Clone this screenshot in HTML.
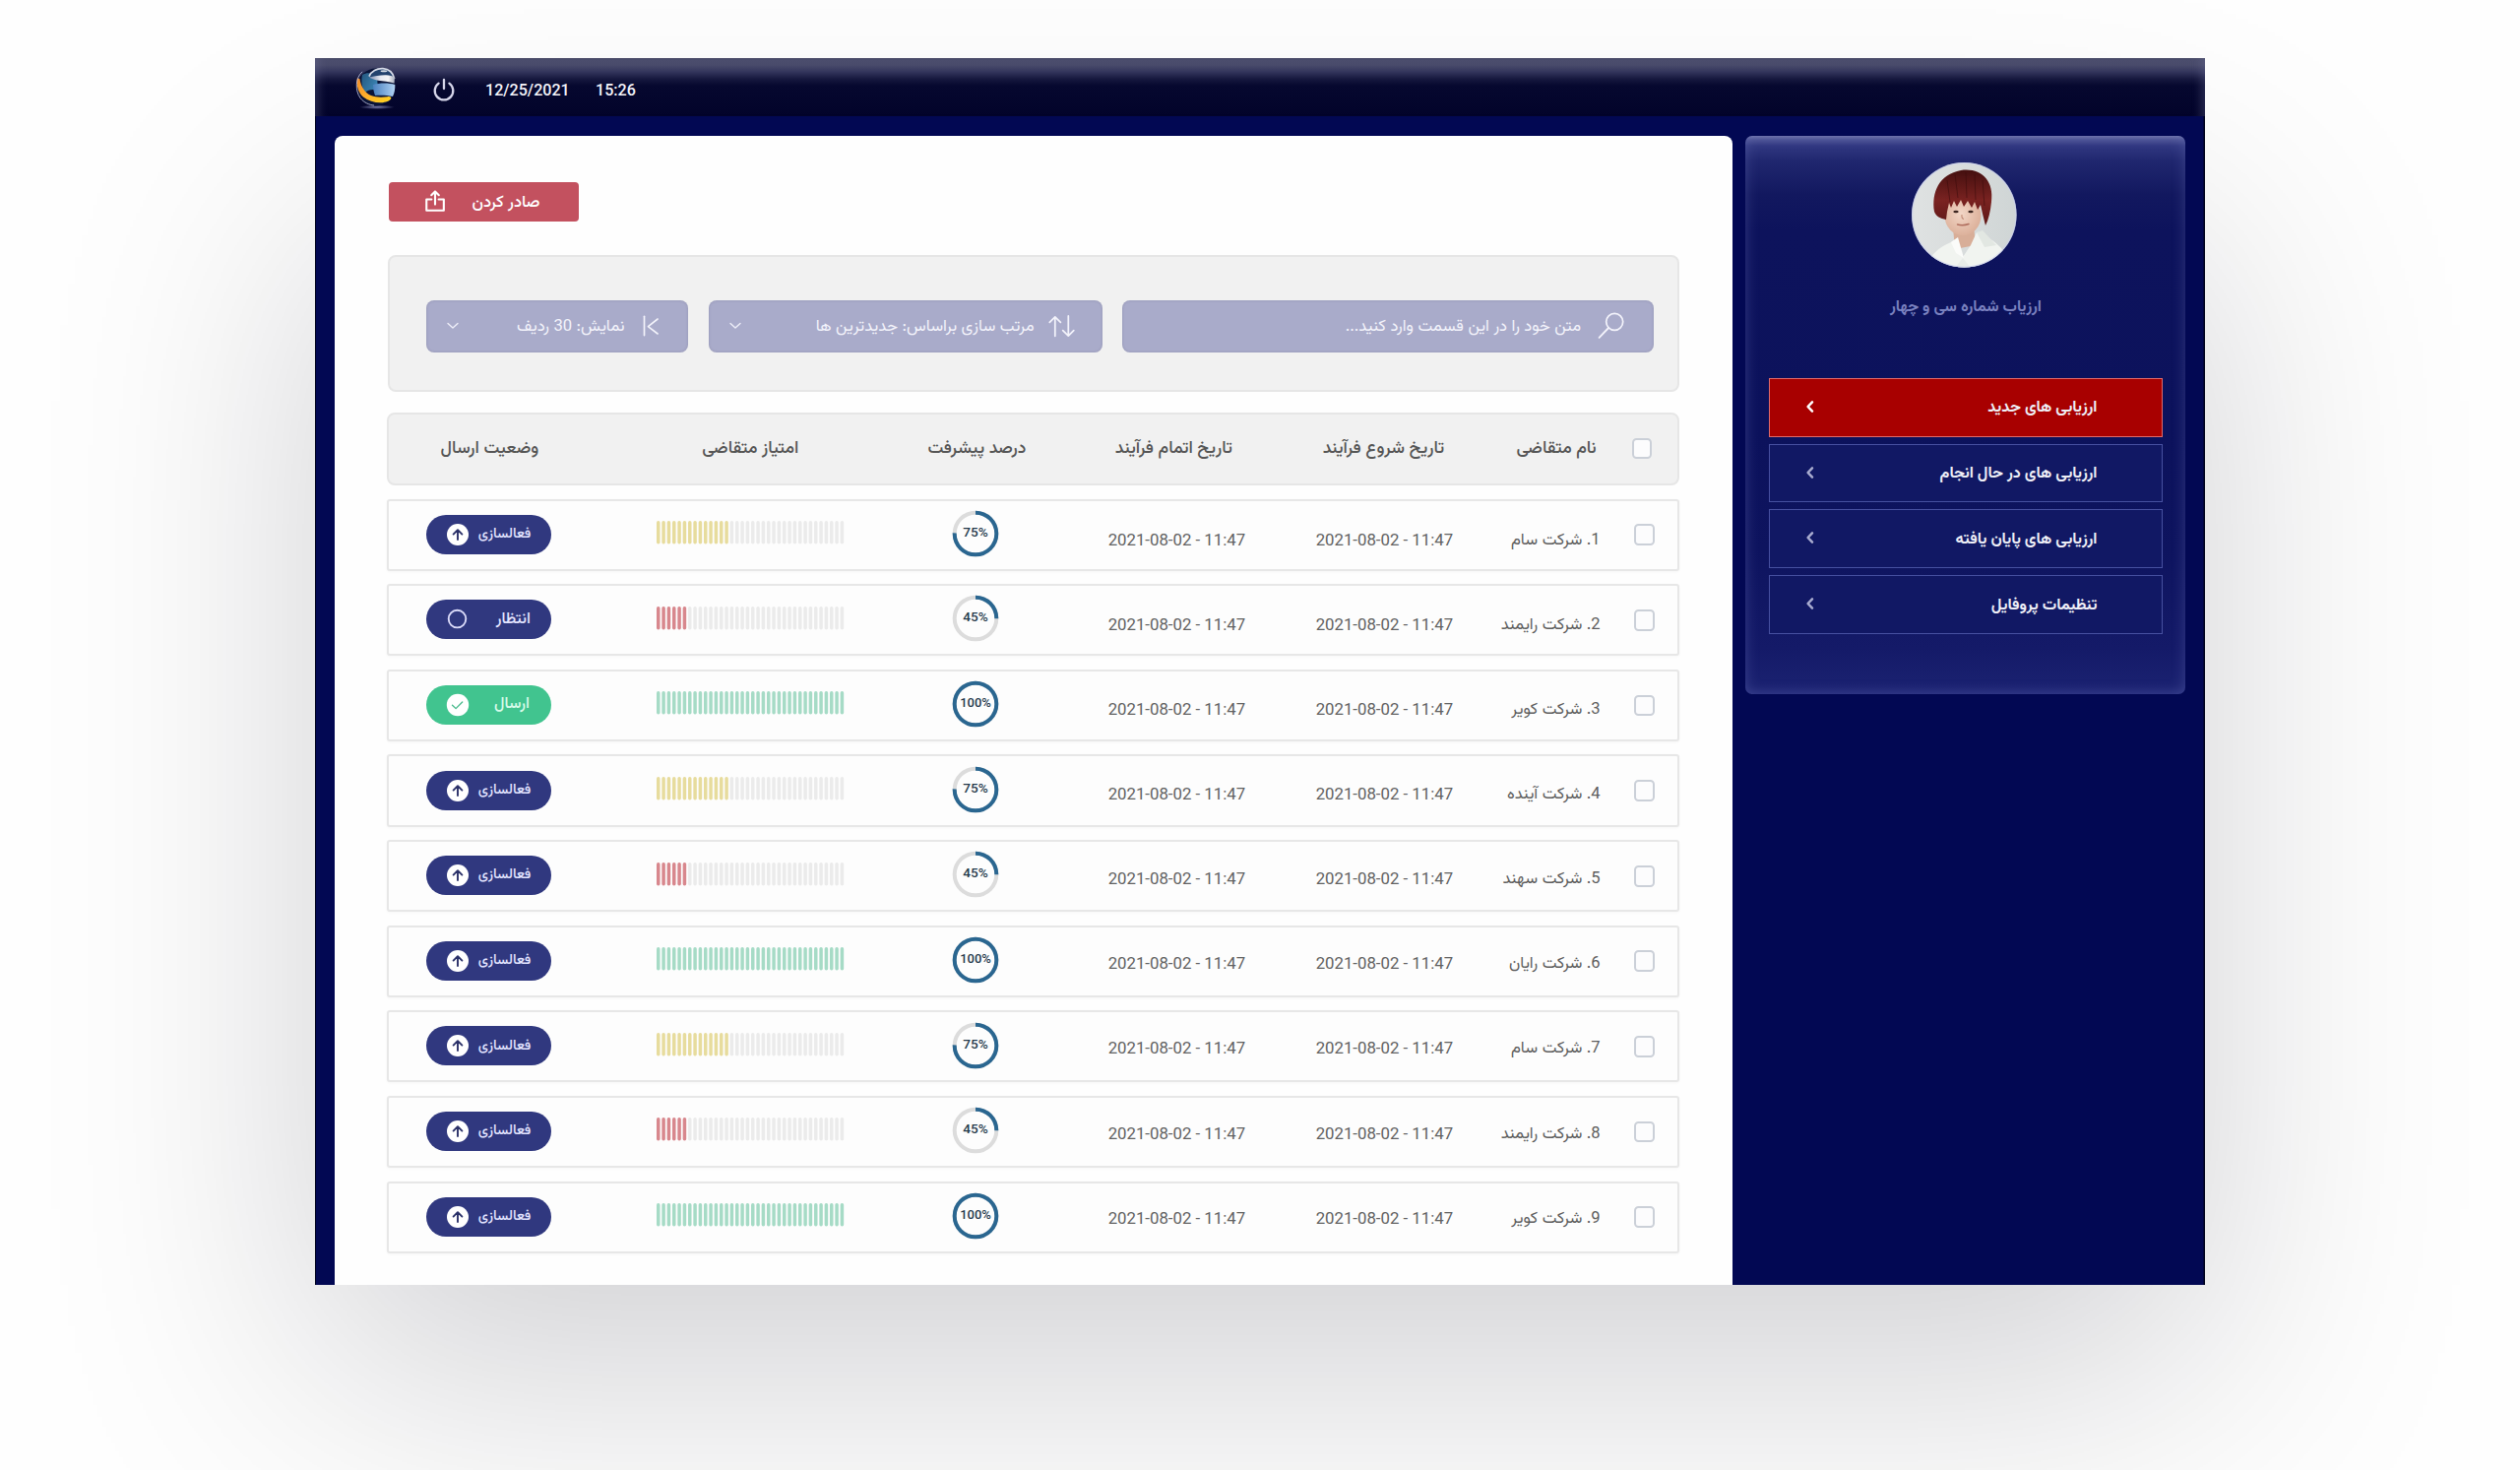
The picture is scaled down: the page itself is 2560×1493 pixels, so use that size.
<!DOCTYPE html><html lang="fa"><head><meta charset="utf-8"><title>ارزیابی ها</title>
<style>
*{margin:0;padding:0;box-sizing:border-box}
html,body{width:2560px;height:1493px;overflow:hidden;background:#fefefe}
body{position:relative;font-family:"Vazirmatn", "Roboto", "Liberation Sans", "DejaVu Sans", sans-serif;}
.win{position:absolute;left:320px;top:58.6px;width:1920px;height:1246.4px;background:#020853;box-shadow:inset 1px 0 0 #00031c,inset -1.5px 0 0 #00031c;
  }
.shd{position:absolute;left:320px;top:150px;width:1920px;height:1155px;box-shadow:0 90px 270px rgba(0,0,20,.185)}
.hdr{position:absolute;left:0;top:0;width:1920px;height:59.8px;
  background:linear-gradient(180deg,#42445f 0px,#4b4d6d 1.5px,#494b6b 7px,#33355c 14px,#17193f 21px,#06082f 28px,#02032a 60px);}
.hdr:before{content:"";position:absolute;inset:0;box-shadow:inset 12px 0 10px -8px rgba(110,112,150,.35),inset -12px 0 10px -8px rgba(110,112,150,.35)}
.date{position:absolute;top:80px;font-family:"Roboto", "Vazirmatn", "Liberation Sans", sans-serif;font-weight:500;font-size:16.1px;color:#f4f4fa;direction:ltr;line-height:24px}
.main{position:absolute;left:340px;top:138px;width:1420px;height:1167px;background:#fefefe;border-radius:8px 8px 0 0}
.side{position:absolute;left:1773px;top:138px;width:447px;height:567px;border-radius:7px;
  background:linear-gradient(180deg,#6b70a7 0px,#4a5092 4px,#313881 10px,#20276f 25px,#12185f 60px,#0d135c 96px,#0c125c 300px,#0e145f 420px,#141a68 520px,#1a2170 558px,#1e2575 567px);
  box-shadow:inset 0 0 14px rgba(120,128,200,.35)}
.exp{position:absolute;left:395px;top:185px;width:193px;height:40px;background:#c3515f;border-radius:4px;color:#fff}
.exp span{position:absolute;right:39.5px;top:6.8px;font-size:16.6px;font-weight:500;line-height:28px;direction:rtl}
.fbox{position:absolute;left:393.5px;top:259.3px;width:1312.3px;height:138.3px;background:#f1f1f1;border:2px solid #e6e6e6;border-radius:8px}
.inp{position:absolute;top:305.1px;height:52.9px;background:#a9abca;border-radius:8px;box-shadow:inset 0 0 3px rgba(40,40,60,.16);color:#f3f3fb;direction:rtl}
.inp span{position:absolute;top:13px;line-height:28px;font-size:16.6px;white-space:nowrap}
.thead{position:absolute;left:393.4px;top:418.8px;width:1312.3px;height:74.4px;background:#f1f1f1;border:2px solid #e6e6e6;border-radius:8px}
.th{position:absolute;top:21px;width:200px;text-align:center;font-size:17.6px;font-weight:500;line-height:28px;color:#555;direction:rtl;white-space:nowrap}
.row{position:absolute;left:393.4px;width:1312.3px;height:73.2px;background:#fdfdfd;border:2px solid #e7e7e7;border-radius:3px;box-shadow:0 1px 3px rgba(0,0,0,.035)}
.cb{position:absolute;width:20.4px;height:21.7px;border:2px solid #cbd0d8;border-radius:4.5px;background:#fcfcfd}
.nm{position:absolute;right:78px;top:24.8px;font-size:16.6px;line-height:28px;color:#5e5e5e;direction:rtl;white-space:nowrap}
.dt{position:absolute;top:27.1px;width:200px;text-align:center;font-family:"Roboto", "Vazirmatn", "Liberation Sans", sans-serif;font-size:16.8px;line-height:24px;color:#626262;direction:ltr;white-space:nowrap}
.d1{left:911px}
.d2{left:700px}
.rg{position:absolute;left:571.8px;top:9.4px;width:48px;height:48px}
.rg svg,.br svg,.pic{display:block}
.br{position:absolute;left:271.2px;top:20.5px}
.st{position:absolute;left:38px;top:14.2px}
.pill{position:relative;width:127px;height:40px;border-radius:20px;direction:rtl}
.pill.navy{background:#30387f;color:#e3e4ff}
.pill.green{background:#41c48f;color:#d8fbea}
.pill span{position:absolute;right:21px;top:7.3px;font-size:14.2px;font-weight:500;line-height:26px;white-space:nowrap}
.pill span.w{font-size:16px;right:21.5px;top:7.8px}
.pill.green span{font-size:16px;right:22.5px;top:7.3px}
.pic{position:absolute;left:20px;top:8px}
.sname{position:absolute;left:1797px;width:400px;top:298.5px;text-align:center;font-size:16px;font-weight:700;line-height:28px;color:#7a81bf;direction:rtl}
.mi{position:absolute;left:1797px;width:400px;height:59.5px;background:#111864;border:1.5px solid #4650a0;direction:rtl}
.mi.act{background:#a80000;border-color:#e06a6a}
.mi span{position:absolute;right:65.5px;top:15.3px;font-size:16.1px;font-weight:700;line-height:28px;color:#efeff7;white-space:nowrap}
.mi svg{position:absolute;left:35px;top:21px}
</style></head><body>
<div class="shd"></div><div class="win"><div class="hdr"></div></div>
<svg style="position:absolute;left:355px;top:64px" width="56" height="52" viewBox="0 0 56 52">
<defs>
<linearGradient id="lgt" x1="0" y1="0" x2="1" y2="0.6"><stop offset="0" stop-color="#25577e"/><stop offset="1" stop-color="#3a84b4"/></linearGradient>
<linearGradient id="lgb" x1="0" y1="0" x2="1" y2="0"><stop offset="0" stop-color="#4b82c0"/><stop offset=".7" stop-color="#8fb8e4"/><stop offset="1" stop-color="#b2d2f2"/></linearGradient>
<linearGradient id="lgs" x1="0" y1="0" x2="1" y2="0"><stop offset="0" stop-color="#7f8cae"/><stop offset=".45" stop-color="#e6e9f2"/><stop offset=".75" stop-color="#f4f4f6"/><stop offset="1" stop-color="#aab0c0"/></linearGradient>
<linearGradient id="lgo" x1="0" y1="0" x2="0.8" y2="1"><stop offset="0" stop-color="#ef8a2a"/><stop offset=".55" stop-color="#ffae2c"/><stop offset="1" stop-color="#ffcf22"/></linearGradient>
<radialGradient id="lgg" cx="0.5" cy="0.5" r="0.5"><stop offset="0" stop-color="#b4b8e8" stop-opacity=".7"/><stop offset="1" stop-color="#b4b8e8" stop-opacity="0"/></radialGradient>
</defs>
<ellipse cx="28" cy="44.8" rx="18" ry="2.2" fill="url(#lgg)"/>
<circle cx="27" cy="24.5" r="19" fill="#0a1438"/>
<path d="M13 12 C18 9 24 10 28 14 L29 28 C24 26 19 27 16 30 C13 26 11.5 19 13 12 Z" fill="url(#lgt)"/>
<path d="M24 22 C31 20 40 20 46.3 22 C46.5 26 45.8 30.5 44 34 C38 32.5 31 32.5 26 33 C24.5 29 24 25 24 22 Z" fill="url(#lgb)"/>
<path d="M19.5 14.2 C21 8 28 5 34 5.4 C40 5.8 44.5 10 46 16.5 C40 14 33 13 27 13.4 Z" fill="#22426e"/>
<path d="M20 13.6 C22 8.2 28 5.4 34 5.7 C40 6.1 44.2 10 45.7 16" stroke="#d6dae6" stroke-width="1.7" fill="none"/>
<path d="M20 14.6 C25 13 31 12.5 36 12.2 C40.5 12 43.8 12.9 45.9 14.6 L45.6 20.4 C40 19.1 34 18.4 29 17.7 C25 17 22 16 20 14.6 Z" fill="url(#lgs)"/>
<ellipse cx="35" cy="8.2" rx="3.4" ry="1" fill="#ffffff" opacity=".8"/>
<path d="M7.8 15.5 C6.8 23 9 30 14 34.5 C19 38.5 26 40.5 32 40.3 C37 40 41 38.5 42.3 36 C42.6 34.5 41 33.8 38.5 34.2 C33 35 27 35 22 33 C16 30.5 11.5 24 10.5 16 Z" fill="url(#lgo)"/>
<path d="M13.1 8.8 C6 15 5.5 28 11 35.5 C15 40.5 20 42.5 25 43" stroke="#c8cce8" stroke-width=".8" fill="none"/>
</svg>
<svg style="position:absolute;left:439px;top:79px" width="24" height="24" viewBox="0 0 24 24">
<path d="M6.6 5.6 A9.3 9.3 0 1 0 17.4 5.6" fill="none" stroke="#d6d6ea" stroke-width="2.3" stroke-linecap="round"/>
<path d="M12 1.9 V11" stroke="#d6d6ea" stroke-width="2.3" stroke-linecap="round"/></svg>
<div class="date" style="left:493px">12/25/2021</div>
<div class="date" style="left:605px">15:26</div>
<div class="main"></div>
<div class="exp"><svg style="position:absolute;left:35px;top:7px" width="24" height="26" viewBox="0 0 24 26">
<path d="M8.4 10.45H3.25V21.75H20.85V10.45H15.6" fill="none" stroke="#fff" stroke-width="2.1" stroke-linejoin="round" stroke-linecap="round"/>
<path d="M12 15.6V2.6M8.2 6.2L12 2.4l3.8 3.8" fill="none" stroke="#fff" stroke-width="2.1" stroke-linecap="round" stroke-linejoin="round"/></svg><span>صادر کردن</span></div>
<div class="fbox"></div>
<div class="inp" style="left:433.4px;width:266px"><svg style="position:absolute;left:20px;top:21px" width="14" height="10" viewBox="0 0 14 10"><path d="M2 2.5l5 4.5 5-4.5" fill="none" stroke="#eeeef8" stroke-width="1.4" stroke-linecap="round" stroke-linejoin="round"/></svg><svg style="position:absolute;left:217px;top:14px" width="20" height="24" viewBox="0 0 20 24">
<path d="M4.5 2.3V21.6" stroke="#f3f3fb" stroke-width="1.7" stroke-linecap="round"/>
<path d="M18.1 5L8.4 12.6l9.7 7.4" fill="none" stroke="#f3f3fb" stroke-width="1.6" stroke-linecap="round" stroke-linejoin="round"/></svg><span style="right:65px">نمایش: 30 ردیف</span></div>
<div class="inp" style="left:720px;width:399.5px"><svg style="position:absolute;left:20px;top:21px" width="14" height="10" viewBox="0 0 14 10"><path d="M2 2.5l5 4.5 5-4.5" fill="none" stroke="#eeeef8" stroke-width="1.4" stroke-linecap="round" stroke-linejoin="round"/></svg><svg style="position:absolute;left:344px;top:12px" width="30" height="28" viewBox="0 0 30 28">
<path d="M7.8 24.3V5.2M2.3 10.4L7.8 4.9l5.6 5.5" fill="none" stroke="#f3f3fb" stroke-width="1.75" stroke-linecap="round" stroke-linejoin="round"/>
<path d="M21.3 3.9V23.8M15.7 18.6L21.3 24.1 26.8 18.6" fill="none" stroke="#f3f3fb" stroke-width="1.75" stroke-linecap="round" stroke-linejoin="round"/></svg><span style="right:69px">مرتب سازی براساس: جدیدترین ها</span></div>
<div class="inp" style="left:1140px;width:540px"><svg style="position:absolute;left:483px;top:10px" width="30" height="32" viewBox="0 0 30 32">
<circle cx="17.2" cy="11.8" r="8.5" fill="none" stroke="#f3f3fb" stroke-width="1.75"/>
<path d="M11.1 18 L1.6 27.9" stroke="#f3f3fb" stroke-width="1.85" stroke-linecap="round"/></svg><span style="right:74px">متن خود را در این قسمت وارد کنید...</span></div>
<div class="thead"><div class="cb" style="left:1262.5px;top:24px;height:21.1px;width:20.2px"></div><div class="th" style="right:82px;width:auto">نام متقاضی</div><div class="th" style="left:910px">تاریخ شروع فرآیند</div><div class="th" style="left:697px">تاریخ اتمام فرآیند</div><div class="th" style="left:497px">درصد پیشرفت</div><div class="th" style="left:267px">امتیاز متقاضی</div><div class="th" style="left:2px">وضعیت ارسال</div></div>
<div class="row" style="top:506.5px"><div class="cb" style="left:1264.9px;top:23.9px"></div><div class="nm" style="top:26.60px">1. شرکت سام</div><div class="dt d1" style="top:27.60px">2021-08-02 - 11:47</div><div class="dt d2" style="top:27.60px">2021-08-02 - 11:47</div><div class="rg"><svg class="ring" width="48" height="48" viewBox="0 0 48 48"><circle cx="24" cy="24" r="21.3" fill="none" stroke="#dcdcdc" stroke-width="4"/><circle cx="24" cy="24" r="21.3" fill="none" stroke="#2a6690" stroke-width="4" stroke-dasharray="100.37 133.83" transform="rotate(-90 24 24)"/><text x="24" y="27.4" text-anchor="middle" font-family='"Roboto", "Vazirmatn", "Liberation Sans", sans-serif' font-weight="500" font-size="13.6" fill="#263a4c">75%</text></svg></div><div class="br"><svg class="bar" width="192" height="24" viewBox="0 0 192 24"><rect x="0.00" y="0" width="3.5" height="23.5" rx="1.7" fill="#e7dc9d"/><rect x="5.33" y="0" width="3.5" height="23.5" rx="1.7" fill="#e7dc9d"/><rect x="10.67" y="0" width="3.5" height="23.5" rx="1.7" fill="#e7dc9d"/><rect x="16.00" y="0" width="3.5" height="23.5" rx="1.7" fill="#e7dc9d"/><rect x="21.33" y="0" width="3.5" height="23.5" rx="1.7" fill="#e7dc9d"/><rect x="26.67" y="0" width="3.5" height="23.5" rx="1.7" fill="#e7dc9d"/><rect x="32.00" y="0" width="3.5" height="23.5" rx="1.7" fill="#e7dc9d"/><rect x="37.33" y="0" width="3.5" height="23.5" rx="1.7" fill="#e7dc9d"/><rect x="42.67" y="0" width="3.5" height="23.5" rx="1.7" fill="#e7dc9d"/><rect x="48.00" y="0" width="3.5" height="23.5" rx="1.7" fill="#e7dc9d"/><rect x="53.33" y="0" width="3.5" height="23.5" rx="1.7" fill="#e7dc9d"/><rect x="58.67" y="0" width="3.5" height="23.5" rx="1.7" fill="#e7dc9d"/><rect x="64.00" y="0" width="3.5" height="23.5" rx="1.7" fill="#e7dc9d"/><rect x="69.33" y="0" width="3.5" height="23.5" rx="1.7" fill="#e7dc9d"/><rect x="74.67" y="0" width="3.5" height="23.5" rx="1.7" fill="#ebebeb"/><rect x="80.00" y="0" width="3.5" height="23.5" rx="1.7" fill="#ebebeb"/><rect x="85.33" y="0" width="3.5" height="23.5" rx="1.7" fill="#ebebeb"/><rect x="90.67" y="0" width="3.5" height="23.5" rx="1.7" fill="#ebebeb"/><rect x="96.00" y="0" width="3.5" height="23.5" rx="1.7" fill="#ebebeb"/><rect x="101.33" y="0" width="3.5" height="23.5" rx="1.7" fill="#ebebeb"/><rect x="106.67" y="0" width="3.5" height="23.5" rx="1.7" fill="#ebebeb"/><rect x="112.00" y="0" width="3.5" height="23.5" rx="1.7" fill="#ebebeb"/><rect x="117.33" y="0" width="3.5" height="23.5" rx="1.7" fill="#ebebeb"/><rect x="122.67" y="0" width="3.5" height="23.5" rx="1.7" fill="#ebebeb"/><rect x="128.00" y="0" width="3.5" height="23.5" rx="1.7" fill="#ebebeb"/><rect x="133.33" y="0" width="3.5" height="23.5" rx="1.7" fill="#ebebeb"/><rect x="138.67" y="0" width="3.5" height="23.5" rx="1.7" fill="#ebebeb"/><rect x="144.00" y="0" width="3.5" height="23.5" rx="1.7" fill="#ebebeb"/><rect x="149.33" y="0" width="3.5" height="23.5" rx="1.7" fill="#ebebeb"/><rect x="154.67" y="0" width="3.5" height="23.5" rx="1.7" fill="#ebebeb"/><rect x="160.00" y="0" width="3.5" height="23.5" rx="1.7" fill="#ebebeb"/><rect x="165.33" y="0" width="3.5" height="23.5" rx="1.7" fill="#ebebeb"/><rect x="170.67" y="0" width="3.5" height="23.5" rx="1.7" fill="#ebebeb"/><rect x="176.00" y="0" width="3.5" height="23.5" rx="1.7" fill="#ebebeb"/><rect x="181.33" y="0" width="3.5" height="23.5" rx="1.7" fill="#ebebeb"/><rect x="186.67" y="0" width="3.5" height="23.5" rx="1.7" fill="#ebebeb"/></svg></div><div class="st"><div class="pill navy"><svg class="pic" width="24" height="24" viewBox="0 0 24 24"><circle cx="12" cy="12" r="11" fill="#fff"/><path d="M12 17V7.4M7.6 11.6L12 7.2l4.4 4.4" fill="none" stroke="#2a3068" stroke-width="1.9" stroke-linecap="round" stroke-linejoin="round"/></svg><span>فعالسازی</span></div></div></div>
<div class="row" style="top:593.1px"><div class="cb" style="left:1264.9px;top:23.9px"></div><div class="nm" style="top:26.03px">2. شرکت رایمند</div><div class="dt d1" style="top:27.03px">2021-08-02 - 11:47</div><div class="dt d2" style="top:27.03px">2021-08-02 - 11:47</div><div class="rg"><svg class="ring" width="48" height="48" viewBox="0 0 48 48"><circle cx="24" cy="24" r="21.3" fill="none" stroke="#dcdcdc" stroke-width="4"/><circle cx="24" cy="24" r="21.3" fill="none" stroke="#2a6690" stroke-width="4" stroke-dasharray="33.46 133.83" transform="rotate(-90 24 24)"/><text x="24" y="27.4" text-anchor="middle" font-family='"Roboto", "Vazirmatn", "Liberation Sans", sans-serif' font-weight="500" font-size="13.6" fill="#263a4c">45%</text></svg></div><div class="br"><svg class="bar" width="192" height="24" viewBox="0 0 192 24"><rect x="0.00" y="0" width="3.5" height="23.5" rx="1.7" fill="#d8878d"/><rect x="5.33" y="0" width="3.5" height="23.5" rx="1.7" fill="#d8878d"/><rect x="10.67" y="0" width="3.5" height="23.5" rx="1.7" fill="#d8878d"/><rect x="16.00" y="0" width="3.5" height="23.5" rx="1.7" fill="#d8878d"/><rect x="21.33" y="0" width="3.5" height="23.5" rx="1.7" fill="#d8878d"/><rect x="26.67" y="0" width="3.5" height="23.5" rx="1.7" fill="#d8878d"/><rect x="32.00" y="0" width="3.5" height="23.5" rx="1.7" fill="#ebebeb"/><rect x="37.33" y="0" width="3.5" height="23.5" rx="1.7" fill="#ebebeb"/><rect x="42.67" y="0" width="3.5" height="23.5" rx="1.7" fill="#ebebeb"/><rect x="48.00" y="0" width="3.5" height="23.5" rx="1.7" fill="#ebebeb"/><rect x="53.33" y="0" width="3.5" height="23.5" rx="1.7" fill="#ebebeb"/><rect x="58.67" y="0" width="3.5" height="23.5" rx="1.7" fill="#ebebeb"/><rect x="64.00" y="0" width="3.5" height="23.5" rx="1.7" fill="#ebebeb"/><rect x="69.33" y="0" width="3.5" height="23.5" rx="1.7" fill="#ebebeb"/><rect x="74.67" y="0" width="3.5" height="23.5" rx="1.7" fill="#ebebeb"/><rect x="80.00" y="0" width="3.5" height="23.5" rx="1.7" fill="#ebebeb"/><rect x="85.33" y="0" width="3.5" height="23.5" rx="1.7" fill="#ebebeb"/><rect x="90.67" y="0" width="3.5" height="23.5" rx="1.7" fill="#ebebeb"/><rect x="96.00" y="0" width="3.5" height="23.5" rx="1.7" fill="#ebebeb"/><rect x="101.33" y="0" width="3.5" height="23.5" rx="1.7" fill="#ebebeb"/><rect x="106.67" y="0" width="3.5" height="23.5" rx="1.7" fill="#ebebeb"/><rect x="112.00" y="0" width="3.5" height="23.5" rx="1.7" fill="#ebebeb"/><rect x="117.33" y="0" width="3.5" height="23.5" rx="1.7" fill="#ebebeb"/><rect x="122.67" y="0" width="3.5" height="23.5" rx="1.7" fill="#ebebeb"/><rect x="128.00" y="0" width="3.5" height="23.5" rx="1.7" fill="#ebebeb"/><rect x="133.33" y="0" width="3.5" height="23.5" rx="1.7" fill="#ebebeb"/><rect x="138.67" y="0" width="3.5" height="23.5" rx="1.7" fill="#ebebeb"/><rect x="144.00" y="0" width="3.5" height="23.5" rx="1.7" fill="#ebebeb"/><rect x="149.33" y="0" width="3.5" height="23.5" rx="1.7" fill="#ebebeb"/><rect x="154.67" y="0" width="3.5" height="23.5" rx="1.7" fill="#ebebeb"/><rect x="160.00" y="0" width="3.5" height="23.5" rx="1.7" fill="#ebebeb"/><rect x="165.33" y="0" width="3.5" height="23.5" rx="1.7" fill="#ebebeb"/><rect x="170.67" y="0" width="3.5" height="23.5" rx="1.7" fill="#ebebeb"/><rect x="176.00" y="0" width="3.5" height="23.5" rx="1.7" fill="#ebebeb"/><rect x="181.33" y="0" width="3.5" height="23.5" rx="1.7" fill="#ebebeb"/><rect x="186.67" y="0" width="3.5" height="23.5" rx="1.7" fill="#ebebeb"/></svg></div><div class="st"><div class="pill navy"><svg class="pic" width="24" height="24" viewBox="0 0 24 24"><circle cx="11.5" cy="11.6" r="8.8" fill="none" stroke="#dcdcfa" stroke-width="1.9"/></svg><span class="w">انتظار</span></div></div></div>
<div class="row" style="top:679.8px"><div class="cb" style="left:1264.9px;top:23.9px"></div><div class="nm" style="top:25.46px">3. شرکت کویر</div><div class="dt d1" style="top:26.46px">2021-08-02 - 11:47</div><div class="dt d2" style="top:26.46px">2021-08-02 - 11:47</div><div class="rg"><svg class="ring" width="48" height="48" viewBox="0 0 48 48"><circle cx="24" cy="24" r="21.3" fill="none" stroke="#dcdcdc" stroke-width="4"/><circle cx="24" cy="24" r="21.3" fill="none" stroke="#2a6690" stroke-width="4" stroke-dasharray="133.83 133.83" transform="rotate(-90 24 24)"/><text x="24" y="27.4" text-anchor="middle" font-family='"Roboto", "Vazirmatn", "Liberation Sans", sans-serif' font-weight="500" font-size="13" fill="#263a4c">100%</text></svg></div><div class="br"><svg class="bar" width="192" height="24" viewBox="0 0 192 24"><rect x="0.00" y="0" width="3.5" height="23.5" rx="1.7" fill="#a6dbc6"/><rect x="5.33" y="0" width="3.5" height="23.5" rx="1.7" fill="#a6dbc6"/><rect x="10.67" y="0" width="3.5" height="23.5" rx="1.7" fill="#a6dbc6"/><rect x="16.00" y="0" width="3.5" height="23.5" rx="1.7" fill="#a6dbc6"/><rect x="21.33" y="0" width="3.5" height="23.5" rx="1.7" fill="#a6dbc6"/><rect x="26.67" y="0" width="3.5" height="23.5" rx="1.7" fill="#a6dbc6"/><rect x="32.00" y="0" width="3.5" height="23.5" rx="1.7" fill="#a6dbc6"/><rect x="37.33" y="0" width="3.5" height="23.5" rx="1.7" fill="#a6dbc6"/><rect x="42.67" y="0" width="3.5" height="23.5" rx="1.7" fill="#a6dbc6"/><rect x="48.00" y="0" width="3.5" height="23.5" rx="1.7" fill="#a6dbc6"/><rect x="53.33" y="0" width="3.5" height="23.5" rx="1.7" fill="#a6dbc6"/><rect x="58.67" y="0" width="3.5" height="23.5" rx="1.7" fill="#a6dbc6"/><rect x="64.00" y="0" width="3.5" height="23.5" rx="1.7" fill="#a6dbc6"/><rect x="69.33" y="0" width="3.5" height="23.5" rx="1.7" fill="#a6dbc6"/><rect x="74.67" y="0" width="3.5" height="23.5" rx="1.7" fill="#a6dbc6"/><rect x="80.00" y="0" width="3.5" height="23.5" rx="1.7" fill="#a6dbc6"/><rect x="85.33" y="0" width="3.5" height="23.5" rx="1.7" fill="#a6dbc6"/><rect x="90.67" y="0" width="3.5" height="23.5" rx="1.7" fill="#a6dbc6"/><rect x="96.00" y="0" width="3.5" height="23.5" rx="1.7" fill="#a6dbc6"/><rect x="101.33" y="0" width="3.5" height="23.5" rx="1.7" fill="#a6dbc6"/><rect x="106.67" y="0" width="3.5" height="23.5" rx="1.7" fill="#a6dbc6"/><rect x="112.00" y="0" width="3.5" height="23.5" rx="1.7" fill="#a6dbc6"/><rect x="117.33" y="0" width="3.5" height="23.5" rx="1.7" fill="#a6dbc6"/><rect x="122.67" y="0" width="3.5" height="23.5" rx="1.7" fill="#a6dbc6"/><rect x="128.00" y="0" width="3.5" height="23.5" rx="1.7" fill="#a6dbc6"/><rect x="133.33" y="0" width="3.5" height="23.5" rx="1.7" fill="#a6dbc6"/><rect x="138.67" y="0" width="3.5" height="23.5" rx="1.7" fill="#a6dbc6"/><rect x="144.00" y="0" width="3.5" height="23.5" rx="1.7" fill="#a6dbc6"/><rect x="149.33" y="0" width="3.5" height="23.5" rx="1.7" fill="#a6dbc6"/><rect x="154.67" y="0" width="3.5" height="23.5" rx="1.7" fill="#a6dbc6"/><rect x="160.00" y="0" width="3.5" height="23.5" rx="1.7" fill="#a6dbc6"/><rect x="165.33" y="0" width="3.5" height="23.5" rx="1.7" fill="#a6dbc6"/><rect x="170.67" y="0" width="3.5" height="23.5" rx="1.7" fill="#a6dbc6"/><rect x="176.00" y="0" width="3.5" height="23.5" rx="1.7" fill="#a6dbc6"/><rect x="181.33" y="0" width="3.5" height="23.5" rx="1.7" fill="#a6dbc6"/><rect x="186.67" y="0" width="3.5" height="23.5" rx="1.7" fill="#a6dbc6"/></svg></div><div class="st"><div class="pill green"><svg class="pic" width="24" height="24" viewBox="0 0 24 24"><circle cx="12" cy="12" r="11.2" fill="#fff"/><path d="M6.5 12.2l3.6 3.4 6.6-6.6" fill="none" stroke="#45b98a" stroke-width="1.3" stroke-linecap="round" stroke-linejoin="round"/></svg><span>ارسال</span></div></div></div>
<div class="row" style="top:766.4px"><div class="cb" style="left:1264.9px;top:23.9px"></div><div class="nm" style="top:24.89px">4. شرکت آینده</div><div class="dt d1" style="top:25.89px">2021-08-02 - 11:47</div><div class="dt d2" style="top:25.89px">2021-08-02 - 11:47</div><div class="rg"><svg class="ring" width="48" height="48" viewBox="0 0 48 48"><circle cx="24" cy="24" r="21.3" fill="none" stroke="#dcdcdc" stroke-width="4"/><circle cx="24" cy="24" r="21.3" fill="none" stroke="#2a6690" stroke-width="4" stroke-dasharray="100.37 133.83" transform="rotate(-90 24 24)"/><text x="24" y="27.4" text-anchor="middle" font-family='"Roboto", "Vazirmatn", "Liberation Sans", sans-serif' font-weight="500" font-size="13.6" fill="#263a4c">75%</text></svg></div><div class="br"><svg class="bar" width="192" height="24" viewBox="0 0 192 24"><rect x="0.00" y="0" width="3.5" height="23.5" rx="1.7" fill="#e7dc9d"/><rect x="5.33" y="0" width="3.5" height="23.5" rx="1.7" fill="#e7dc9d"/><rect x="10.67" y="0" width="3.5" height="23.5" rx="1.7" fill="#e7dc9d"/><rect x="16.00" y="0" width="3.5" height="23.5" rx="1.7" fill="#e7dc9d"/><rect x="21.33" y="0" width="3.5" height="23.5" rx="1.7" fill="#e7dc9d"/><rect x="26.67" y="0" width="3.5" height="23.5" rx="1.7" fill="#e7dc9d"/><rect x="32.00" y="0" width="3.5" height="23.5" rx="1.7" fill="#e7dc9d"/><rect x="37.33" y="0" width="3.5" height="23.5" rx="1.7" fill="#e7dc9d"/><rect x="42.67" y="0" width="3.5" height="23.5" rx="1.7" fill="#e7dc9d"/><rect x="48.00" y="0" width="3.5" height="23.5" rx="1.7" fill="#e7dc9d"/><rect x="53.33" y="0" width="3.5" height="23.5" rx="1.7" fill="#e7dc9d"/><rect x="58.67" y="0" width="3.5" height="23.5" rx="1.7" fill="#e7dc9d"/><rect x="64.00" y="0" width="3.5" height="23.5" rx="1.7" fill="#e7dc9d"/><rect x="69.33" y="0" width="3.5" height="23.5" rx="1.7" fill="#e7dc9d"/><rect x="74.67" y="0" width="3.5" height="23.5" rx="1.7" fill="#ebebeb"/><rect x="80.00" y="0" width="3.5" height="23.5" rx="1.7" fill="#ebebeb"/><rect x="85.33" y="0" width="3.5" height="23.5" rx="1.7" fill="#ebebeb"/><rect x="90.67" y="0" width="3.5" height="23.5" rx="1.7" fill="#ebebeb"/><rect x="96.00" y="0" width="3.5" height="23.5" rx="1.7" fill="#ebebeb"/><rect x="101.33" y="0" width="3.5" height="23.5" rx="1.7" fill="#ebebeb"/><rect x="106.67" y="0" width="3.5" height="23.5" rx="1.7" fill="#ebebeb"/><rect x="112.00" y="0" width="3.5" height="23.5" rx="1.7" fill="#ebebeb"/><rect x="117.33" y="0" width="3.5" height="23.5" rx="1.7" fill="#ebebeb"/><rect x="122.67" y="0" width="3.5" height="23.5" rx="1.7" fill="#ebebeb"/><rect x="128.00" y="0" width="3.5" height="23.5" rx="1.7" fill="#ebebeb"/><rect x="133.33" y="0" width="3.5" height="23.5" rx="1.7" fill="#ebebeb"/><rect x="138.67" y="0" width="3.5" height="23.5" rx="1.7" fill="#ebebeb"/><rect x="144.00" y="0" width="3.5" height="23.5" rx="1.7" fill="#ebebeb"/><rect x="149.33" y="0" width="3.5" height="23.5" rx="1.7" fill="#ebebeb"/><rect x="154.67" y="0" width="3.5" height="23.5" rx="1.7" fill="#ebebeb"/><rect x="160.00" y="0" width="3.5" height="23.5" rx="1.7" fill="#ebebeb"/><rect x="165.33" y="0" width="3.5" height="23.5" rx="1.7" fill="#ebebeb"/><rect x="170.67" y="0" width="3.5" height="23.5" rx="1.7" fill="#ebebeb"/><rect x="176.00" y="0" width="3.5" height="23.5" rx="1.7" fill="#ebebeb"/><rect x="181.33" y="0" width="3.5" height="23.5" rx="1.7" fill="#ebebeb"/><rect x="186.67" y="0" width="3.5" height="23.5" rx="1.7" fill="#ebebeb"/></svg></div><div class="st"><div class="pill navy"><svg class="pic" width="24" height="24" viewBox="0 0 24 24"><circle cx="12" cy="12" r="11" fill="#fff"/><path d="M12 17V7.4M7.6 11.6L12 7.2l4.4 4.4" fill="none" stroke="#2a3068" stroke-width="1.9" stroke-linecap="round" stroke-linejoin="round"/></svg><span>فعالسازی</span></div></div></div>
<div class="row" style="top:853.0px"><div class="cb" style="left:1264.9px;top:23.9px"></div><div class="nm" style="top:24.32px">5. شرکت سهند</div><div class="dt d1" style="top:25.32px">2021-08-02 - 11:47</div><div class="dt d2" style="top:25.32px">2021-08-02 - 11:47</div><div class="rg"><svg class="ring" width="48" height="48" viewBox="0 0 48 48"><circle cx="24" cy="24" r="21.3" fill="none" stroke="#dcdcdc" stroke-width="4"/><circle cx="24" cy="24" r="21.3" fill="none" stroke="#2a6690" stroke-width="4" stroke-dasharray="33.46 133.83" transform="rotate(-90 24 24)"/><text x="24" y="27.4" text-anchor="middle" font-family='"Roboto", "Vazirmatn", "Liberation Sans", sans-serif' font-weight="500" font-size="13.6" fill="#263a4c">45%</text></svg></div><div class="br"><svg class="bar" width="192" height="24" viewBox="0 0 192 24"><rect x="0.00" y="0" width="3.5" height="23.5" rx="1.7" fill="#d8878d"/><rect x="5.33" y="0" width="3.5" height="23.5" rx="1.7" fill="#d8878d"/><rect x="10.67" y="0" width="3.5" height="23.5" rx="1.7" fill="#d8878d"/><rect x="16.00" y="0" width="3.5" height="23.5" rx="1.7" fill="#d8878d"/><rect x="21.33" y="0" width="3.5" height="23.5" rx="1.7" fill="#d8878d"/><rect x="26.67" y="0" width="3.5" height="23.5" rx="1.7" fill="#d8878d"/><rect x="32.00" y="0" width="3.5" height="23.5" rx="1.7" fill="#ebebeb"/><rect x="37.33" y="0" width="3.5" height="23.5" rx="1.7" fill="#ebebeb"/><rect x="42.67" y="0" width="3.5" height="23.5" rx="1.7" fill="#ebebeb"/><rect x="48.00" y="0" width="3.5" height="23.5" rx="1.7" fill="#ebebeb"/><rect x="53.33" y="0" width="3.5" height="23.5" rx="1.7" fill="#ebebeb"/><rect x="58.67" y="0" width="3.5" height="23.5" rx="1.7" fill="#ebebeb"/><rect x="64.00" y="0" width="3.5" height="23.5" rx="1.7" fill="#ebebeb"/><rect x="69.33" y="0" width="3.5" height="23.5" rx="1.7" fill="#ebebeb"/><rect x="74.67" y="0" width="3.5" height="23.5" rx="1.7" fill="#ebebeb"/><rect x="80.00" y="0" width="3.5" height="23.5" rx="1.7" fill="#ebebeb"/><rect x="85.33" y="0" width="3.5" height="23.5" rx="1.7" fill="#ebebeb"/><rect x="90.67" y="0" width="3.5" height="23.5" rx="1.7" fill="#ebebeb"/><rect x="96.00" y="0" width="3.5" height="23.5" rx="1.7" fill="#ebebeb"/><rect x="101.33" y="0" width="3.5" height="23.5" rx="1.7" fill="#ebebeb"/><rect x="106.67" y="0" width="3.5" height="23.5" rx="1.7" fill="#ebebeb"/><rect x="112.00" y="0" width="3.5" height="23.5" rx="1.7" fill="#ebebeb"/><rect x="117.33" y="0" width="3.5" height="23.5" rx="1.7" fill="#ebebeb"/><rect x="122.67" y="0" width="3.5" height="23.5" rx="1.7" fill="#ebebeb"/><rect x="128.00" y="0" width="3.5" height="23.5" rx="1.7" fill="#ebebeb"/><rect x="133.33" y="0" width="3.5" height="23.5" rx="1.7" fill="#ebebeb"/><rect x="138.67" y="0" width="3.5" height="23.5" rx="1.7" fill="#ebebeb"/><rect x="144.00" y="0" width="3.5" height="23.5" rx="1.7" fill="#ebebeb"/><rect x="149.33" y="0" width="3.5" height="23.5" rx="1.7" fill="#ebebeb"/><rect x="154.67" y="0" width="3.5" height="23.5" rx="1.7" fill="#ebebeb"/><rect x="160.00" y="0" width="3.5" height="23.5" rx="1.7" fill="#ebebeb"/><rect x="165.33" y="0" width="3.5" height="23.5" rx="1.7" fill="#ebebeb"/><rect x="170.67" y="0" width="3.5" height="23.5" rx="1.7" fill="#ebebeb"/><rect x="176.00" y="0" width="3.5" height="23.5" rx="1.7" fill="#ebebeb"/><rect x="181.33" y="0" width="3.5" height="23.5" rx="1.7" fill="#ebebeb"/><rect x="186.67" y="0" width="3.5" height="23.5" rx="1.7" fill="#ebebeb"/></svg></div><div class="st"><div class="pill navy"><svg class="pic" width="24" height="24" viewBox="0 0 24 24"><circle cx="12" cy="12" r="11" fill="#fff"/><path d="M12 17V7.4M7.6 11.6L12 7.2l4.4 4.4" fill="none" stroke="#2a3068" stroke-width="1.9" stroke-linecap="round" stroke-linejoin="round"/></svg><span>فعالسازی</span></div></div></div>
<div class="row" style="top:939.6px"><div class="cb" style="left:1264.9px;top:23.9px"></div><div class="nm" style="top:23.75px">6. شرکت رایان</div><div class="dt d1" style="top:24.75px">2021-08-02 - 11:47</div><div class="dt d2" style="top:24.75px">2021-08-02 - 11:47</div><div class="rg"><svg class="ring" width="48" height="48" viewBox="0 0 48 48"><circle cx="24" cy="24" r="21.3" fill="none" stroke="#dcdcdc" stroke-width="4"/><circle cx="24" cy="24" r="21.3" fill="none" stroke="#2a6690" stroke-width="4" stroke-dasharray="133.83 133.83" transform="rotate(-90 24 24)"/><text x="24" y="27.4" text-anchor="middle" font-family='"Roboto", "Vazirmatn", "Liberation Sans", sans-serif' font-weight="500" font-size="13" fill="#263a4c">100%</text></svg></div><div class="br"><svg class="bar" width="192" height="24" viewBox="0 0 192 24"><rect x="0.00" y="0" width="3.5" height="23.5" rx="1.7" fill="#a6dbc6"/><rect x="5.33" y="0" width="3.5" height="23.5" rx="1.7" fill="#a6dbc6"/><rect x="10.67" y="0" width="3.5" height="23.5" rx="1.7" fill="#a6dbc6"/><rect x="16.00" y="0" width="3.5" height="23.5" rx="1.7" fill="#a6dbc6"/><rect x="21.33" y="0" width="3.5" height="23.5" rx="1.7" fill="#a6dbc6"/><rect x="26.67" y="0" width="3.5" height="23.5" rx="1.7" fill="#a6dbc6"/><rect x="32.00" y="0" width="3.5" height="23.5" rx="1.7" fill="#a6dbc6"/><rect x="37.33" y="0" width="3.5" height="23.5" rx="1.7" fill="#a6dbc6"/><rect x="42.67" y="0" width="3.5" height="23.5" rx="1.7" fill="#a6dbc6"/><rect x="48.00" y="0" width="3.5" height="23.5" rx="1.7" fill="#a6dbc6"/><rect x="53.33" y="0" width="3.5" height="23.5" rx="1.7" fill="#a6dbc6"/><rect x="58.67" y="0" width="3.5" height="23.5" rx="1.7" fill="#a6dbc6"/><rect x="64.00" y="0" width="3.5" height="23.5" rx="1.7" fill="#a6dbc6"/><rect x="69.33" y="0" width="3.5" height="23.5" rx="1.7" fill="#a6dbc6"/><rect x="74.67" y="0" width="3.5" height="23.5" rx="1.7" fill="#a6dbc6"/><rect x="80.00" y="0" width="3.5" height="23.5" rx="1.7" fill="#a6dbc6"/><rect x="85.33" y="0" width="3.5" height="23.5" rx="1.7" fill="#a6dbc6"/><rect x="90.67" y="0" width="3.5" height="23.5" rx="1.7" fill="#a6dbc6"/><rect x="96.00" y="0" width="3.5" height="23.5" rx="1.7" fill="#a6dbc6"/><rect x="101.33" y="0" width="3.5" height="23.5" rx="1.7" fill="#a6dbc6"/><rect x="106.67" y="0" width="3.5" height="23.5" rx="1.7" fill="#a6dbc6"/><rect x="112.00" y="0" width="3.5" height="23.5" rx="1.7" fill="#a6dbc6"/><rect x="117.33" y="0" width="3.5" height="23.5" rx="1.7" fill="#a6dbc6"/><rect x="122.67" y="0" width="3.5" height="23.5" rx="1.7" fill="#a6dbc6"/><rect x="128.00" y="0" width="3.5" height="23.5" rx="1.7" fill="#a6dbc6"/><rect x="133.33" y="0" width="3.5" height="23.5" rx="1.7" fill="#a6dbc6"/><rect x="138.67" y="0" width="3.5" height="23.5" rx="1.7" fill="#a6dbc6"/><rect x="144.00" y="0" width="3.5" height="23.5" rx="1.7" fill="#a6dbc6"/><rect x="149.33" y="0" width="3.5" height="23.5" rx="1.7" fill="#a6dbc6"/><rect x="154.67" y="0" width="3.5" height="23.5" rx="1.7" fill="#a6dbc6"/><rect x="160.00" y="0" width="3.5" height="23.5" rx="1.7" fill="#a6dbc6"/><rect x="165.33" y="0" width="3.5" height="23.5" rx="1.7" fill="#a6dbc6"/><rect x="170.67" y="0" width="3.5" height="23.5" rx="1.7" fill="#a6dbc6"/><rect x="176.00" y="0" width="3.5" height="23.5" rx="1.7" fill="#a6dbc6"/><rect x="181.33" y="0" width="3.5" height="23.5" rx="1.7" fill="#a6dbc6"/><rect x="186.67" y="0" width="3.5" height="23.5" rx="1.7" fill="#a6dbc6"/></svg></div><div class="st"><div class="pill navy"><svg class="pic" width="24" height="24" viewBox="0 0 24 24"><circle cx="12" cy="12" r="11" fill="#fff"/><path d="M12 17V7.4M7.6 11.6L12 7.2l4.4 4.4" fill="none" stroke="#2a3068" stroke-width="1.9" stroke-linecap="round" stroke-linejoin="round"/></svg><span>فعالسازی</span></div></div></div>
<div class="row" style="top:1026.2px"><div class="cb" style="left:1264.9px;top:23.9px"></div><div class="nm" style="top:23.18px">7. شرکت سام</div><div class="dt d1" style="top:24.18px">2021-08-02 - 11:47</div><div class="dt d2" style="top:24.18px">2021-08-02 - 11:47</div><div class="rg"><svg class="ring" width="48" height="48" viewBox="0 0 48 48"><circle cx="24" cy="24" r="21.3" fill="none" stroke="#dcdcdc" stroke-width="4"/><circle cx="24" cy="24" r="21.3" fill="none" stroke="#2a6690" stroke-width="4" stroke-dasharray="100.37 133.83" transform="rotate(-90 24 24)"/><text x="24" y="27.4" text-anchor="middle" font-family='"Roboto", "Vazirmatn", "Liberation Sans", sans-serif' font-weight="500" font-size="13.6" fill="#263a4c">75%</text></svg></div><div class="br"><svg class="bar" width="192" height="24" viewBox="0 0 192 24"><rect x="0.00" y="0" width="3.5" height="23.5" rx="1.7" fill="#e7dc9d"/><rect x="5.33" y="0" width="3.5" height="23.5" rx="1.7" fill="#e7dc9d"/><rect x="10.67" y="0" width="3.5" height="23.5" rx="1.7" fill="#e7dc9d"/><rect x="16.00" y="0" width="3.5" height="23.5" rx="1.7" fill="#e7dc9d"/><rect x="21.33" y="0" width="3.5" height="23.5" rx="1.7" fill="#e7dc9d"/><rect x="26.67" y="0" width="3.5" height="23.5" rx="1.7" fill="#e7dc9d"/><rect x="32.00" y="0" width="3.5" height="23.5" rx="1.7" fill="#e7dc9d"/><rect x="37.33" y="0" width="3.5" height="23.5" rx="1.7" fill="#e7dc9d"/><rect x="42.67" y="0" width="3.5" height="23.5" rx="1.7" fill="#e7dc9d"/><rect x="48.00" y="0" width="3.5" height="23.5" rx="1.7" fill="#e7dc9d"/><rect x="53.33" y="0" width="3.5" height="23.5" rx="1.7" fill="#e7dc9d"/><rect x="58.67" y="0" width="3.5" height="23.5" rx="1.7" fill="#e7dc9d"/><rect x="64.00" y="0" width="3.5" height="23.5" rx="1.7" fill="#e7dc9d"/><rect x="69.33" y="0" width="3.5" height="23.5" rx="1.7" fill="#e7dc9d"/><rect x="74.67" y="0" width="3.5" height="23.5" rx="1.7" fill="#ebebeb"/><rect x="80.00" y="0" width="3.5" height="23.5" rx="1.7" fill="#ebebeb"/><rect x="85.33" y="0" width="3.5" height="23.5" rx="1.7" fill="#ebebeb"/><rect x="90.67" y="0" width="3.5" height="23.5" rx="1.7" fill="#ebebeb"/><rect x="96.00" y="0" width="3.5" height="23.5" rx="1.7" fill="#ebebeb"/><rect x="101.33" y="0" width="3.5" height="23.5" rx="1.7" fill="#ebebeb"/><rect x="106.67" y="0" width="3.5" height="23.5" rx="1.7" fill="#ebebeb"/><rect x="112.00" y="0" width="3.5" height="23.5" rx="1.7" fill="#ebebeb"/><rect x="117.33" y="0" width="3.5" height="23.5" rx="1.7" fill="#ebebeb"/><rect x="122.67" y="0" width="3.5" height="23.5" rx="1.7" fill="#ebebeb"/><rect x="128.00" y="0" width="3.5" height="23.5" rx="1.7" fill="#ebebeb"/><rect x="133.33" y="0" width="3.5" height="23.5" rx="1.7" fill="#ebebeb"/><rect x="138.67" y="0" width="3.5" height="23.5" rx="1.7" fill="#ebebeb"/><rect x="144.00" y="0" width="3.5" height="23.5" rx="1.7" fill="#ebebeb"/><rect x="149.33" y="0" width="3.5" height="23.5" rx="1.7" fill="#ebebeb"/><rect x="154.67" y="0" width="3.5" height="23.5" rx="1.7" fill="#ebebeb"/><rect x="160.00" y="0" width="3.5" height="23.5" rx="1.7" fill="#ebebeb"/><rect x="165.33" y="0" width="3.5" height="23.5" rx="1.7" fill="#ebebeb"/><rect x="170.67" y="0" width="3.5" height="23.5" rx="1.7" fill="#ebebeb"/><rect x="176.00" y="0" width="3.5" height="23.5" rx="1.7" fill="#ebebeb"/><rect x="181.33" y="0" width="3.5" height="23.5" rx="1.7" fill="#ebebeb"/><rect x="186.67" y="0" width="3.5" height="23.5" rx="1.7" fill="#ebebeb"/></svg></div><div class="st"><div class="pill navy"><svg class="pic" width="24" height="24" viewBox="0 0 24 24"><circle cx="12" cy="12" r="11" fill="#fff"/><path d="M12 17V7.4M7.6 11.6L12 7.2l4.4 4.4" fill="none" stroke="#2a3068" stroke-width="1.9" stroke-linecap="round" stroke-linejoin="round"/></svg><span>فعالسازی</span></div></div></div>
<div class="row" style="top:1112.9px"><div class="cb" style="left:1264.9px;top:23.9px"></div><div class="nm" style="top:22.61px">8. شرکت رایمند</div><div class="dt d1" style="top:23.61px">2021-08-02 - 11:47</div><div class="dt d2" style="top:23.61px">2021-08-02 - 11:47</div><div class="rg"><svg class="ring" width="48" height="48" viewBox="0 0 48 48"><circle cx="24" cy="24" r="21.3" fill="none" stroke="#dcdcdc" stroke-width="4"/><circle cx="24" cy="24" r="21.3" fill="none" stroke="#2a6690" stroke-width="4" stroke-dasharray="33.46 133.83" transform="rotate(-90 24 24)"/><text x="24" y="27.4" text-anchor="middle" font-family='"Roboto", "Vazirmatn", "Liberation Sans", sans-serif' font-weight="500" font-size="13.6" fill="#263a4c">45%</text></svg></div><div class="br"><svg class="bar" width="192" height="24" viewBox="0 0 192 24"><rect x="0.00" y="0" width="3.5" height="23.5" rx="1.7" fill="#d8878d"/><rect x="5.33" y="0" width="3.5" height="23.5" rx="1.7" fill="#d8878d"/><rect x="10.67" y="0" width="3.5" height="23.5" rx="1.7" fill="#d8878d"/><rect x="16.00" y="0" width="3.5" height="23.5" rx="1.7" fill="#d8878d"/><rect x="21.33" y="0" width="3.5" height="23.5" rx="1.7" fill="#d8878d"/><rect x="26.67" y="0" width="3.5" height="23.5" rx="1.7" fill="#d8878d"/><rect x="32.00" y="0" width="3.5" height="23.5" rx="1.7" fill="#ebebeb"/><rect x="37.33" y="0" width="3.5" height="23.5" rx="1.7" fill="#ebebeb"/><rect x="42.67" y="0" width="3.5" height="23.5" rx="1.7" fill="#ebebeb"/><rect x="48.00" y="0" width="3.5" height="23.5" rx="1.7" fill="#ebebeb"/><rect x="53.33" y="0" width="3.5" height="23.5" rx="1.7" fill="#ebebeb"/><rect x="58.67" y="0" width="3.5" height="23.5" rx="1.7" fill="#ebebeb"/><rect x="64.00" y="0" width="3.5" height="23.5" rx="1.7" fill="#ebebeb"/><rect x="69.33" y="0" width="3.5" height="23.5" rx="1.7" fill="#ebebeb"/><rect x="74.67" y="0" width="3.5" height="23.5" rx="1.7" fill="#ebebeb"/><rect x="80.00" y="0" width="3.5" height="23.5" rx="1.7" fill="#ebebeb"/><rect x="85.33" y="0" width="3.5" height="23.5" rx="1.7" fill="#ebebeb"/><rect x="90.67" y="0" width="3.5" height="23.5" rx="1.7" fill="#ebebeb"/><rect x="96.00" y="0" width="3.5" height="23.5" rx="1.7" fill="#ebebeb"/><rect x="101.33" y="0" width="3.5" height="23.5" rx="1.7" fill="#ebebeb"/><rect x="106.67" y="0" width="3.5" height="23.5" rx="1.7" fill="#ebebeb"/><rect x="112.00" y="0" width="3.5" height="23.5" rx="1.7" fill="#ebebeb"/><rect x="117.33" y="0" width="3.5" height="23.5" rx="1.7" fill="#ebebeb"/><rect x="122.67" y="0" width="3.5" height="23.5" rx="1.7" fill="#ebebeb"/><rect x="128.00" y="0" width="3.5" height="23.5" rx="1.7" fill="#ebebeb"/><rect x="133.33" y="0" width="3.5" height="23.5" rx="1.7" fill="#ebebeb"/><rect x="138.67" y="0" width="3.5" height="23.5" rx="1.7" fill="#ebebeb"/><rect x="144.00" y="0" width="3.5" height="23.5" rx="1.7" fill="#ebebeb"/><rect x="149.33" y="0" width="3.5" height="23.5" rx="1.7" fill="#ebebeb"/><rect x="154.67" y="0" width="3.5" height="23.5" rx="1.7" fill="#ebebeb"/><rect x="160.00" y="0" width="3.5" height="23.5" rx="1.7" fill="#ebebeb"/><rect x="165.33" y="0" width="3.5" height="23.5" rx="1.7" fill="#ebebeb"/><rect x="170.67" y="0" width="3.5" height="23.5" rx="1.7" fill="#ebebeb"/><rect x="176.00" y="0" width="3.5" height="23.5" rx="1.7" fill="#ebebeb"/><rect x="181.33" y="0" width="3.5" height="23.5" rx="1.7" fill="#ebebeb"/><rect x="186.67" y="0" width="3.5" height="23.5" rx="1.7" fill="#ebebeb"/></svg></div><div class="st"><div class="pill navy"><svg class="pic" width="24" height="24" viewBox="0 0 24 24"><circle cx="12" cy="12" r="11" fill="#fff"/><path d="M12 17V7.4M7.6 11.6L12 7.2l4.4 4.4" fill="none" stroke="#2a3068" stroke-width="1.9" stroke-linecap="round" stroke-linejoin="round"/></svg><span>فعالسازی</span></div></div></div>
<div class="row" style="top:1199.5px"><div class="cb" style="left:1264.9px;top:23.9px"></div><div class="nm" style="top:22.04px">9. شرکت کویر</div><div class="dt d1" style="top:23.04px">2021-08-02 - 11:47</div><div class="dt d2" style="top:23.04px">2021-08-02 - 11:47</div><div class="rg"><svg class="ring" width="48" height="48" viewBox="0 0 48 48"><circle cx="24" cy="24" r="21.3" fill="none" stroke="#dcdcdc" stroke-width="4"/><circle cx="24" cy="24" r="21.3" fill="none" stroke="#2a6690" stroke-width="4" stroke-dasharray="133.83 133.83" transform="rotate(-90 24 24)"/><text x="24" y="27.4" text-anchor="middle" font-family='"Roboto", "Vazirmatn", "Liberation Sans", sans-serif' font-weight="500" font-size="13" fill="#263a4c">100%</text></svg></div><div class="br"><svg class="bar" width="192" height="24" viewBox="0 0 192 24"><rect x="0.00" y="0" width="3.5" height="23.5" rx="1.7" fill="#a6dbc6"/><rect x="5.33" y="0" width="3.5" height="23.5" rx="1.7" fill="#a6dbc6"/><rect x="10.67" y="0" width="3.5" height="23.5" rx="1.7" fill="#a6dbc6"/><rect x="16.00" y="0" width="3.5" height="23.5" rx="1.7" fill="#a6dbc6"/><rect x="21.33" y="0" width="3.5" height="23.5" rx="1.7" fill="#a6dbc6"/><rect x="26.67" y="0" width="3.5" height="23.5" rx="1.7" fill="#a6dbc6"/><rect x="32.00" y="0" width="3.5" height="23.5" rx="1.7" fill="#a6dbc6"/><rect x="37.33" y="0" width="3.5" height="23.5" rx="1.7" fill="#a6dbc6"/><rect x="42.67" y="0" width="3.5" height="23.5" rx="1.7" fill="#a6dbc6"/><rect x="48.00" y="0" width="3.5" height="23.5" rx="1.7" fill="#a6dbc6"/><rect x="53.33" y="0" width="3.5" height="23.5" rx="1.7" fill="#a6dbc6"/><rect x="58.67" y="0" width="3.5" height="23.5" rx="1.7" fill="#a6dbc6"/><rect x="64.00" y="0" width="3.5" height="23.5" rx="1.7" fill="#a6dbc6"/><rect x="69.33" y="0" width="3.5" height="23.5" rx="1.7" fill="#a6dbc6"/><rect x="74.67" y="0" width="3.5" height="23.5" rx="1.7" fill="#a6dbc6"/><rect x="80.00" y="0" width="3.5" height="23.5" rx="1.7" fill="#a6dbc6"/><rect x="85.33" y="0" width="3.5" height="23.5" rx="1.7" fill="#a6dbc6"/><rect x="90.67" y="0" width="3.5" height="23.5" rx="1.7" fill="#a6dbc6"/><rect x="96.00" y="0" width="3.5" height="23.5" rx="1.7" fill="#a6dbc6"/><rect x="101.33" y="0" width="3.5" height="23.5" rx="1.7" fill="#a6dbc6"/><rect x="106.67" y="0" width="3.5" height="23.5" rx="1.7" fill="#a6dbc6"/><rect x="112.00" y="0" width="3.5" height="23.5" rx="1.7" fill="#a6dbc6"/><rect x="117.33" y="0" width="3.5" height="23.5" rx="1.7" fill="#a6dbc6"/><rect x="122.67" y="0" width="3.5" height="23.5" rx="1.7" fill="#a6dbc6"/><rect x="128.00" y="0" width="3.5" height="23.5" rx="1.7" fill="#a6dbc6"/><rect x="133.33" y="0" width="3.5" height="23.5" rx="1.7" fill="#a6dbc6"/><rect x="138.67" y="0" width="3.5" height="23.5" rx="1.7" fill="#a6dbc6"/><rect x="144.00" y="0" width="3.5" height="23.5" rx="1.7" fill="#a6dbc6"/><rect x="149.33" y="0" width="3.5" height="23.5" rx="1.7" fill="#a6dbc6"/><rect x="154.67" y="0" width="3.5" height="23.5" rx="1.7" fill="#a6dbc6"/><rect x="160.00" y="0" width="3.5" height="23.5" rx="1.7" fill="#a6dbc6"/><rect x="165.33" y="0" width="3.5" height="23.5" rx="1.7" fill="#a6dbc6"/><rect x="170.67" y="0" width="3.5" height="23.5" rx="1.7" fill="#a6dbc6"/><rect x="176.00" y="0" width="3.5" height="23.5" rx="1.7" fill="#a6dbc6"/><rect x="181.33" y="0" width="3.5" height="23.5" rx="1.7" fill="#a6dbc6"/><rect x="186.67" y="0" width="3.5" height="23.5" rx="1.7" fill="#a6dbc6"/></svg></div><div class="st"><div class="pill navy"><svg class="pic" width="24" height="24" viewBox="0 0 24 24"><circle cx="12" cy="12" r="11" fill="#fff"/><path d="M12 17V7.4M7.6 11.6L12 7.2l4.4 4.4" fill="none" stroke="#2a3068" stroke-width="1.9" stroke-linecap="round" stroke-linejoin="round"/></svg><span>فعالسازی</span></div></div></div>
<div class="side"></div>
<svg style="position:absolute;left:1941.5px;top:165px" width="107" height="107" viewBox="0 0 107 107">
<defs>
<clipPath id="avc"><circle cx="53.3" cy="53.3" r="53.2"/></clipPath>
<linearGradient id="avbg" x1="0" y1="0" x2="1" y2="0"><stop offset="0" stop-color="#dfe2e2"/><stop offset=".5" stop-color="#d8dcdc"/><stop offset="1" stop-color="#cfd5d5"/></linearGradient>
<radialGradient id="avsk" cx="0.45" cy="0.45" r="0.65"><stop offset="0" stop-color="#f2d6c6"/><stop offset="1" stop-color="#d9ab94"/></radialGradient>
<linearGradient id="avh" x1="0" y1="0" x2="0" y2="1"><stop offset="0" stop-color="#451010"/><stop offset=".55" stop-color="#7a2321"/><stop offset="1" stop-color="#5e1716"/></linearGradient>
</defs>
<g clip-path="url(#avc)">
<rect width="107" height="107" fill="url(#avbg)"/>
<path d="M42 66 L63 64 L65 84 L44 88 Z" fill="#d8ae98"/>
<path d="M14 107 C18 94 28 86 40 81 L46 77 L52 96 L60 84 L66 71 L80 78 C90 84 98 94 104 107 Z" fill="#f1f4f0"/>
<path d="M40 81 L47 76 L53 97 L45 92 Z" fill="#fbfcfa"/>
<path d="M66 71 L72 69 L86 84 L74 86 Z" fill="#e2e7e2"/>
<path d="M52 97 L44 107 L60 107 Z" fill="#e8ece8"/>
<ellipse cx="52" cy="54" rx="18.5" ry="20" fill="url(#avsk)"/>
<path d="M23 50 C20 30 28 12 50 8 C70 5 84 18 81 40 C80 50 78 58 75 64 L72 52 L70 43 L67 48 L64 40 L61 46 L57 39 L53 45 L50 38 L46 45 L43 39 L40 46 L38 41 L36 50 L35 58 C29 57 25 55 23 50 Z" fill="url(#avh)"/>
<path d="M44 12 L47 36 M55 10 L56 36 M64 12 L65 38 M36 18 L39 40 M72 18 L74 44" stroke="#3a0b0b" stroke-width="1" opacity=".55"/>
<ellipse cx="45" cy="50" rx="2.7" ry="1.3" fill="#3c2620"/>
<ellipse cx="60" cy="50" rx="2.7" ry="1.3" fill="#3c2620"/>
<path d="M51 53 Q50.5 57 53 57.5" stroke="#c08a76" stroke-width="1.1" fill="none"/>
<path d="M46.5 63 Q52 64.5 58 62.5" stroke="#b06e5e" stroke-width="1.5" fill="none" stroke-linecap="round"/>
</g>
<circle cx="53.3" cy="53.3" r="52.7" fill="none" stroke="#ccd2ee" stroke-width="1.2" opacity=".7"/>
</svg>
<div class="sname">ارزیاب شماره سی و چهار</div>
<div class="mi act" style="top:384px"><span>ارزیابی های جدید</span><svg width="12" height="14" viewBox="0 0 12 14"><path d="M8 2.3L3.6 7l4.4 4.7" fill="none" stroke="#ffffff" stroke-width="2.5" stroke-linecap="round" stroke-linejoin="round"/></svg></div>
<div class="mi" style="top:450.8px"><span>ارزیابی های در حال انجام</span><svg width="12" height="14" viewBox="0 0 12 14"><path d="M8 2.3L3.6 7l4.4 4.7" fill="none" stroke="#a9acd0" stroke-width="2.5" stroke-linecap="round" stroke-linejoin="round"/></svg></div>
<div class="mi" style="top:517.4px"><span>ارزیابی های پایان یافته</span><svg width="12" height="14" viewBox="0 0 12 14"><path d="M8 2.3L3.6 7l4.4 4.7" fill="none" stroke="#a9acd0" stroke-width="2.5" stroke-linecap="round" stroke-linejoin="round"/></svg></div>
<div class="mi" style="top:584.3px"><span>تنظیمات پروفایل</span><svg width="12" height="14" viewBox="0 0 12 14"><path d="M8 2.3L3.6 7l4.4 4.7" fill="none" stroke="#a9acd0" stroke-width="2.5" stroke-linecap="round" stroke-linejoin="round"/></svg></div>
</body></html>
